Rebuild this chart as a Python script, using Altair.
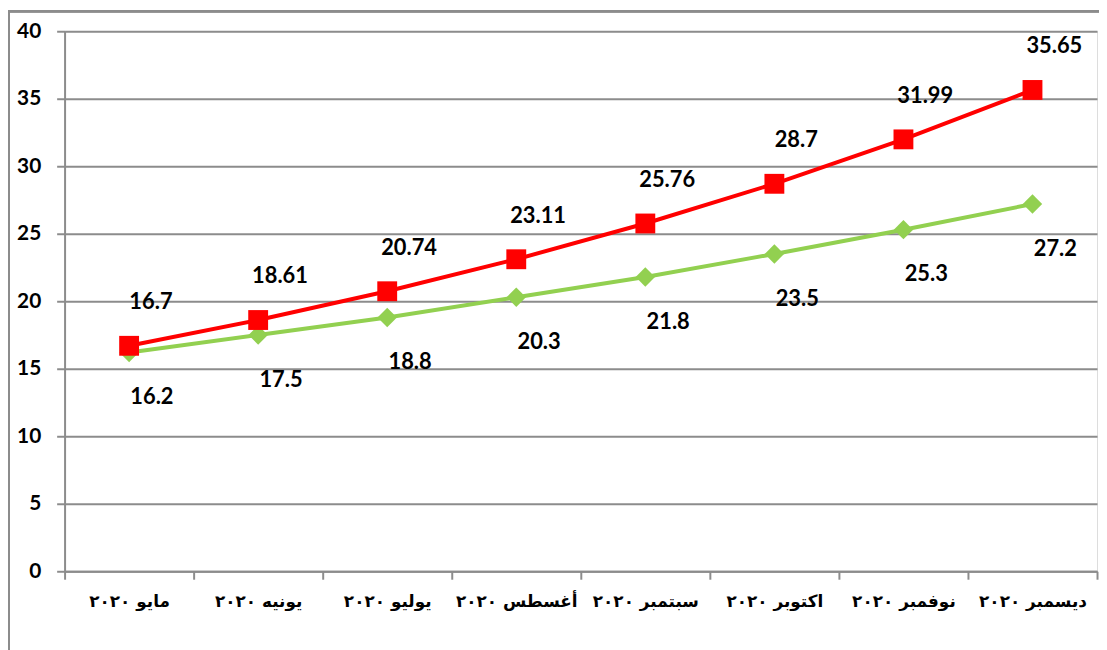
import altair as alt
import pandas as pd

months = ["مايو ٢٠٢٠", "يونيه ٢٠٢٠", "يوليو ٢٠٢٠", "أغسطس ٢٠٢٠",
          "سبتمبر ٢٠٢٠", "اكتوبر ٢٠٢٠", "نوفمبر ٢٠٢٠", "ديسمبر ٢٠٢٠"]
red_values = [16.7, 18.61, 20.74, 23.11, 25.76, 28.7, 31.99, 35.65]
green_values = [16.2, 17.5, 18.8, 20.3, 21.8, 23.5, 25.3, 27.2]

df_red = pd.DataFrame({"month": months, "value": red_values})
df_green = pd.DataFrame({"month": months, "value": green_values})

W, H = 1040, 544
FONT = "Lato"

x_enc = alt.X("month:N", sort=months, scale=alt.Scale(paddingInner=0, paddingOuter=0),
              axis=alt.Axis(title=None, labelAngle=0, labelFont="DejaVu Sans", labelFontSize=17,
                            labelFontWeight="bold", labelColor="black", labelPadding=14,
                            tickBand="extent", tickSize=8, tickColor="#8c8c8c", tickWidth=2,
                            domainColor="#8c8c8c", domainWidth=2, grid=False))
y_enc = alt.Y("value:Q", scale=alt.Scale(domain=[0, 40], nice=False),
              axis=alt.Axis(title=None, values=list(range(0, 41, 5)), labelFont=FONT,
                            labelFontSize=21, labelFontWeight="bold", labelColor="black",
                            labelPadding=16, tickSize=8, tickColor="#8c8c8c", tickWidth=2,
                            domainColor="#8c8c8c", domainWidth=2,
                            grid=True, gridColor="#8c8c8c", gridWidth=2))

frame = alt.Chart(df_red).mark_rect(fill=None, stroke="#8c8c8c", strokeWidth=2).encode(
    x=alt.value(-56), x2=alt.value(W + 200), y=alt.value(-20), y2=alt.value(H + 200))

red_line = alt.Chart(df_red).mark_line(color="#ff0000", strokeWidth=4).encode(x=x_enc, y=y_enc)
red_pts = alt.Chart(df_red).mark_point(shape="square", filled=True, color="#ff0000",
                                       size=400, opacity=1).encode(x=x_enc, y=y_enc)
red_lbl = alt.Chart(df_red).mark_text(font=FONT, fontSize=22, fontWeight="bold",
                                      color="black", dx=22, dy=-44).encode(
    x=x_enc, y=y_enc, text=alt.Text("value:Q"))

green_line = alt.Chart(df_green).mark_line(color="#92d050", strokeWidth=4).encode(x=x_enc, y=y_enc)
green_pts = alt.Chart(df_green).mark_point(shape="diamond", filled=True, color="#92d050",
                                           size=380, opacity=1).encode(x=x_enc, y=y_enc)
green_lbl = alt.Chart(df_green).mark_text(font=FONT, fontSize=22, fontWeight="bold",
                                          color="black", dx=23, dy=45).encode(
    x=x_enc, y=y_enc, text=alt.Text("value:Q"))

chart = alt.layer(green_line, red_line, green_pts, red_pts, red_lbl, green_lbl, frame).properties(
    width=W, height=H,
    autosize=alt.AutoSizeParams(type="none"),
    padding={"left": 57, "top": 21, "right": 2, "bottom": 90},
).configure_view(stroke=None).configure(background="white")

chart.save("out.html", embed_options={"renderer": "svg", "actions": False})
